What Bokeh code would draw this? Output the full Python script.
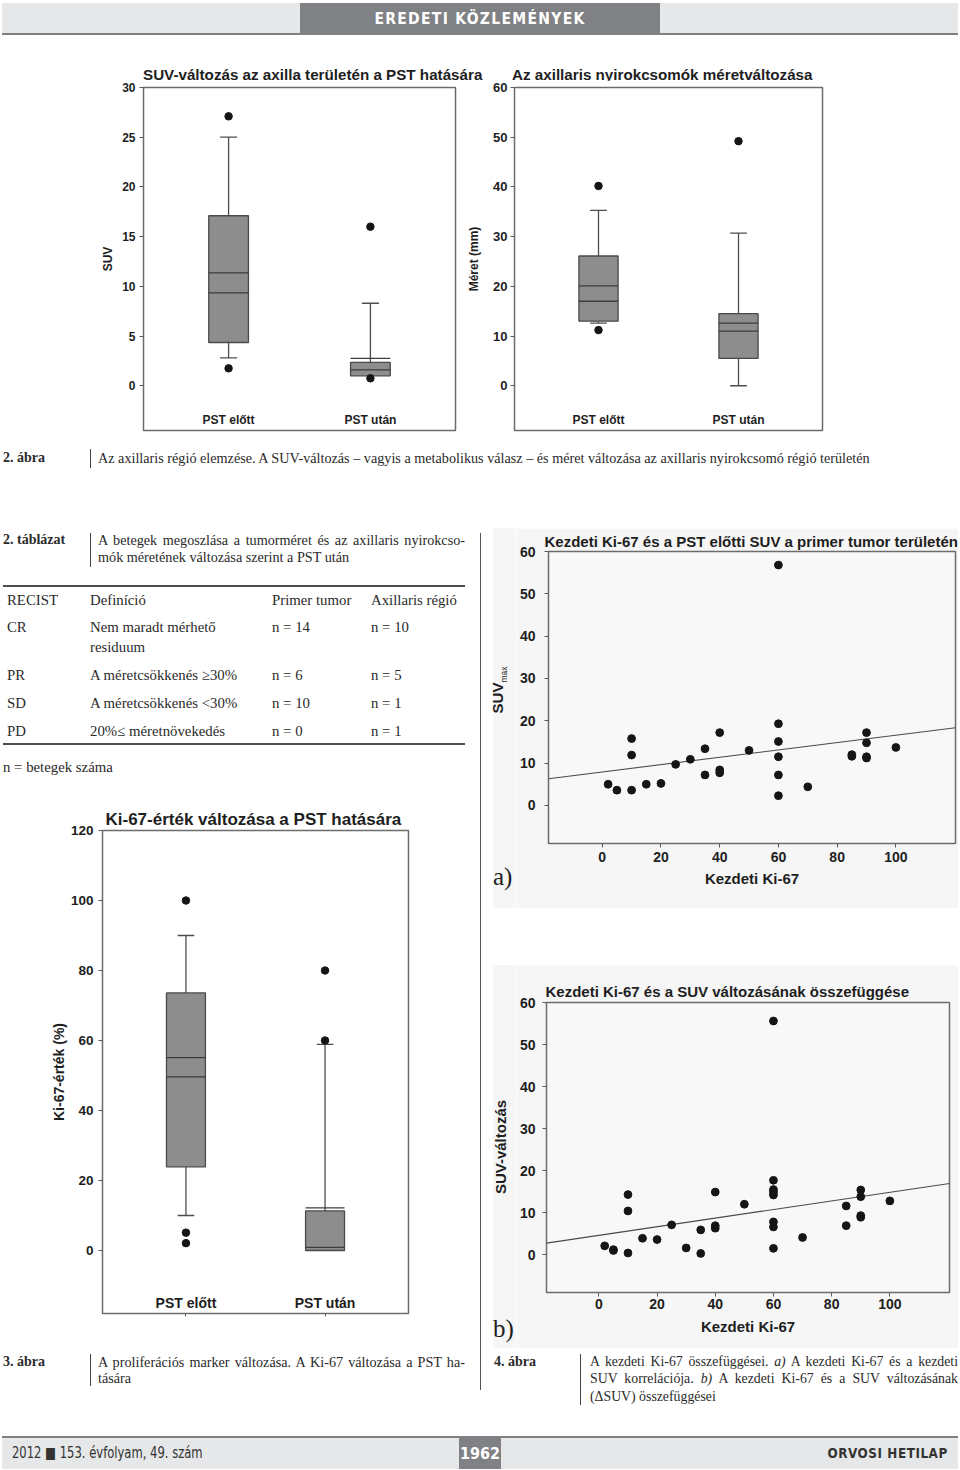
import html
from bokeh.plotting import figure
from bokeh.layouts import column, row
from bokeh.models import Div, Spacer, FixedTicker, Range1d
from bokeh.embed import file_html
from bokeh.resources import INLINE
from bokeh.core.properties import value

SANS = "Liberation Sans"
CSS_SANS = "'Liberation Sans',Arial,sans-serif"
CSS_SERIF = "'Liberation Serif','Times New Roman',serif"
CSS_NARROW = "'Liberation Sans Narrow','DejaVu Sans Condensed','Roboto Condensed','Liberation Sans',sans-serif"
INK = "#1e1e1e"
TEXT = "#2a2a2a"
PANEL = "#f6f6f6"

# ---------------------------------------------------------------- data
header_text = "EREDETI KÖZLEMÉNYEK"
footer_left = "2012 ■ 153. évfolyam, 49. szám"
footer_page = "1962"
footer_right = "ORVOSI HETILAP"

box_categories = ["PST előtt", "PST után"]
box_positions = [1, 2]

suv_title = "SUV-változás az axilla területén a PST hatására"
suv_ylabel = "SUV"
suv_ticks = [0, 5, 10, 15, 20, 25, 30]
suv_low = [2.8, 1.0]
suv_q1 = [4.35, 1.0]
suv_median = [9.35, 1.6]
suv_mean = [11.35, 2.75]
suv_q3 = [17.1, 2.35]
suv_high = [25.0, 8.3]
suv_outlier_group = [0, 0, 1, 1]
suv_outlier_value = [27.1, 1.75, 16.0, 0.75]

meret_title = "Az axillaris nyirokcsomók méretváltozása"
meret_ylabel = "Méret (mm)"
meret_ticks = [0, 10, 20, 30, 40, 50, 60]
meret_low = [12.6, 0.0]
meret_q1 = [13.0, 5.5]
meret_median = [17.0, 11.0]
meret_mean = [20.1, 12.6]
meret_q3 = [26.1, 14.5]
meret_high = [35.3, 30.7]
meret_outlier_group = [0, 0, 1]
meret_outlier_value = [40.2, 11.2, 49.2]

ki_title = "Ki-67-érték változása a PST hatására"
ki_ylabel = "Ki-67-érték (%)"
ki_ticks = [0, 20, 40, 60, 80, 100, 120]
ki_low = [10.0, 0.0]
ki_q1 = [23.9, 0.0]
ki_median = [49.6, 0.9]
ki_mean = [55.1, 12.2]
ki_q3 = [73.6, 11.3]
ki_high = [90.0, 58.9]
ki_outlier_group = [0, 0, 0, 1, 1]
ki_outlier_value = [100.0, 5.1, 2.1, 80.0, 60.0]

scatter_xlabel = "Kezdeti Ki-67"
scatter_x_ticks = [0, 20, 40, 60, 80, 100]
scatter_y_ticks = [0, 10, 20, 30, 40, 50, 60]

sca_title = "Kezdeti Ki-67 és a PST előtti SUV a primer tumor területén"
sca_ylabel = "SUV"
sca_ylabel_sub = "max"
sca_ki67 = [2, 5, 10, 10, 10, 15, 20, 25, 30, 35, 35, 40, 40, 40, 50,
            60, 60, 60, 60, 60, 60, 70, 85, 85, 90, 90, 90, 90, 100]
sca_suv = [5.0, 3.6, 15.8, 11.9, 3.6, 5.0, 5.2, 9.7, 10.9, 13.4, 7.2, 17.2, 8.4, 7.7, 13.0,
           56.8, 19.3, 15.1, 11.5, 7.2, 2.3, 4.4, 12.0, 11.6, 17.2, 14.8, 11.5, 11.2, 13.7]
sca_fit_intercept = 7.9
sca_fit_slope = 0.087
sca_panel = "a)"

scb_title = "Kezdeti Ki-67 és a SUV változásának összefüggése"
scb_ylabel = "SUV-változás"
scb_ki67 = [2, 5, 5, 10, 10, 10, 15, 20, 25, 30, 35, 35, 40, 40, 40, 50,
            60, 60, 60, 60, 60, 60, 60, 60, 70, 85, 85, 90, 90, 90, 90, 100]
scb_dsuv = [2.1, 1.2, 1.0, 14.3, 10.4, 0.4, 3.9, 3.6, 7.1, 1.6, 5.9, 0.3, 14.9, 6.9, 6.3, 12.0,
            55.6, 17.7, 15.5, 14.9, 14.2, 7.8, 6.6, 1.5, 4.1, 11.6, 6.9, 15.4, 13.8, 9.3, 8.9, 12.8]
scb_fit_intercept = 4.6
scb_fit_slope = 0.1025
scb_panel = "b)"

fig2_label = "2. ábra"
fig2_caption = ("Az axillaris régió elemzése. A SUV-változás – vagyis a metabolikus válasz – "
                "és méret változása az axillaris nyirokcsomó régió területén")
tab_label = "2. táblázat"
tab_caption = ["A betegek megoszlása a tumorméret és az axillaris nyirokcso-",
               "mók méretének változása szerint a PST után"]
table_header = ["RECIST", "Definíció", "Primer tumor", "Axillaris régió"]
table_recist = ["CR", "PR", "SD", "PD"]
table_definition = [["Nem maradt mérhető", "residuum"], ["A méretcsökkenés ≥30%"],
                    ["A méretcsökkenés <30%"], ["20%≤ méretnövekedés"]]
table_primer = ["n = 14", "n = 6", "n = 10", "n = 0"]
table_axillaris = ["n = 10", "n = 5", "n = 1", "n = 1"]
table_note = "n = betegek száma"
fig3_label = "3. ábra"
fig3_caption = ["A proliferációs marker változása. A Ki-67 változása a PST ha-", "tására"]
fig4_label = "4. ábra"
fig4_caption = ["A kezdeti Ki-67 összefüggései. <i>a)</i> A kezdeti Ki-67 és a kezdeti",
                "SUV korrelációja. <i>b)</i> A kezdeti Ki-67 és a SUV változásának",
                "(ΔSUV) összefüggései"]


# ---------------------------------------------------------------- helpers
class Geo:
    """Canvas and frame placement in page pixels."""
    def __init__(self, cx, cy, w, h, fx0, fx1, fy0, fy1, xr, yr):
        self.w, self.h, self.xr, self.yr = w, h, xr, yr
        self.fx0, self.fx1, self.fy0, self.fy1 = fx0, fx1, fy0, fy1
        self.mbl, self.mbr = fx0 - cx, cx + w - fx1
        self.mbt, self.mbb = fy0 - cy, cy + h - fy1

    def dy(self, py):
        return self.yr[0] + (self.fy1 - py) * (self.yr[1] - self.yr[0]) / (self.fy1 - self.fy0)


def make_figure(g, bg="white", frame_bg="white"):
    p = figure(width=g.w, height=g.h, x_range=Range1d(*g.xr), y_range=Range1d(*g.yr),
               output_backend="svg", toolbar_location=None,
               min_border_left=g.mbl, min_border_right=g.mbr,
               min_border_top=g.mbt, min_border_bottom=g.mbb,
               background_fill_color=frame_bg, border_fill_color=bg,
               outline_line_color="#6c6c6c", outline_line_width=1.5)
    p.xgrid.visible = False
    p.ygrid.visible = False
    return p


def set_title(p, text, size, standoff, offset=0):
    p.title.text = text
    p.title.text_font = SANS
    p.title.text_font_style = "bold"
    p.title.text_font_size = f"{size}px"
    p.title.text_color = INK
    p.title.align = "left"
    p.title.offset = offset
    p.title.standoff = standoff


def style_axis(ax, ticks, size, tick_standoff, label=None, label_size=12, label_standoff=5, tick_out=4):
    ax.ticker = FixedTicker(ticks=ticks)
    ax.axis_line_color = None
    ax.major_tick_in = 0
    ax.major_tick_out = tick_out
    ax.minor_tick_in = 0
    ax.minor_tick_out = 0
    ax.major_tick_line_color = "#5a5a5a"
    ax.major_label_text_font = SANS
    ax.major_label_text_font_style = "bold"
    ax.major_label_text_font_size = f"{size}px"
    ax.major_label_text_color = INK
    ax.major_label_standoff = tick_standoff
    if label:
        ax.axis_label = label
        ax.axis_label_text_font = SANS
        ax.axis_label_text_font_style = "bold"
        ax.axis_label_text_font_size = f"{label_size}px"
        ax.axis_label_text_color = INK
        ax.axis_label_standoff = label_standoff


def box_chart(g, ticks, tick_size, tick_standoff, ylabel, ylabel_size, ylabel_standoff,
              low, q1, med, mean, q3, high, out_group, out_value, cat_label_py, cat_size,
              title=None, x_ticks=False):
    p = make_figure(g)
    if title:
        set_title(p, *title)
    style_axis(p.yaxis[0], ticks, tick_size, tick_standoff, ylabel, ylabel_size, ylabel_standoff)
    if x_ticks:
        xa = p.xaxis[0]
        style_axis(xa, box_positions, 4, 0, tick_out=3)
        xa.major_label_overrides = {1: "", 2: ""}
    else:
        p.xaxis.visible = False
    bw, cw = 0.28, 0.12
    xs = box_positions
    lefts = [x - bw / 2 for x in xs]
    rights = [x + bw / 2 for x in xs]
    wcol, ww = "#4e4e4e", 1.3
    p.segment(x0=xs, y0=q3, x1=xs, y1=high, line_color=wcol, line_width=ww)
    p.segment(x0=[x - cw / 2 for x in xs], x1=[x + cw / 2 for x in xs], y0=high, y1=high,
              line_color=wcol, line_width=ww)
    keep = [i for i in range(len(xs)) if low[i] < q1[i]]
    lx = [xs[i] for i in keep]
    llo = [low[i] for i in keep]
    lq1 = [q1[i] for i in keep]
    p.segment(x0=lx, y0=lq1, x1=lx, y1=llo, line_color=wcol, line_width=ww)
    p.segment(x0=[x - cw / 2 for x in lx], x1=[x + cw / 2 for x in lx], y0=llo, y1=llo,
              line_color=wcol, line_width=ww)
    p.quad(left=lefts, right=rights, bottom=q1, top=q3, fill_color="#8d8d8d",
           line_color="#4a4a4a", line_width=1.3)
    p.segment(x0=lefts, x1=rights, y0=med, y1=med, line_color="#3c3c3c", line_width=1.3)
    p.segment(x0=lefts, x1=rights, y0=mean, y1=mean, line_color="#3c3c3c", line_width=1.3)
    p.scatter(x=[xs[i] for i in out_group], y=out_value, size=7.5, color="#151515")
    cy = g.dy(cat_label_py)
    p.text(x=xs, y=[cy] * len(xs), text=box_categories, text_align="center", text_baseline="middle",
           text_font=value(SANS), text_font_style="bold", text_font_size=f"{cat_size}px", text_color=INK)
    return p


def scatter_chart(g, title, kx, ky, b0, b1, ytick_standoff, xtick_standoff, xlabel_standoff):
    p = make_figure(g, bg=PANEL, frame_bg="#f8f8f8")
    set_title(p, *title)
    style_axis(p.yaxis[0], scatter_y_ticks, 14, ytick_standoff)
    style_axis(p.xaxis[0], scatter_x_ticks, 14, xtick_standoff, scatter_xlabel, 15, xlabel_standoff)
    fx = list(g.xr)
    fy = [b0 + b1 * x for x in fx]
    p.line(x=fx, y=fy, line_color="#4a4a4a", line_width=1.1)
    p.scatter(x=kx, y=ky, size=7.8, color="#151515")
    return p


def txt(x, yc, content, size, family=CSS_SERIF, weight="normal", color=TEXT, extra=""):
    lh = round(size * 1.3)
    top = yc - lh / 2
    return (f'<div style="position:absolute;left:{x}px;top:{top:.1f}px;font-family:{family};'
            f'font-size:{size}px;line-height:{lh}px;font-weight:{weight};color:{color};'
            f'white-space:nowrap;{extra}">{content}</div>')


def jline(x, yc, width, content, size, color=TEXT):
    lh = round(size * 1.3)
    top = yc - lh / 2
    return (f'<div style="position:absolute;left:{x}px;top:{top:.1f}px;width:{width}px;'
            f'font-family:{CSS_SERIF};font-size:{size}px;line-height:{lh}px;color:{color};'
            f'white-space:nowrap;text-align:justify;text-align-last:justify;">{content}</div>')


def vtxt(cx, cy, content, size, weight="bold"):
    return (f'<div style="position:absolute;left:{cx}px;top:{cy}px;transform:translate(-50%,-50%) rotate(-90deg);'
            f'font-family:{CSS_SANS};font-size:{size}px;line-height:{round(size*1.2)}px;font-weight:{weight};'
            f'color:{INK};white-space:nowrap;">{content}</div>')


def rect(x, y, w, h, color):
    return (f'<div style="position:absolute;left:{x}px;top:{y}px;width:{w}px;height:{h}px;'
            f'background:{color};"></div>')


def box_div(w, h, inner):
    return Div(text=f'<div style="position:relative;width:{w}px;height:{h}px;overflow:visible;">{inner}</div>',
               width=w, height=h, margin=0)


W = 958

# ---------------------------------------------------------------- figures
g_suv = Geo(88, 80, 376, 360, 143, 455, 87, 430, (0.4, 2.6), (-4.5, 30))
g_meret = Geo(464, 80, 376, 360, 512, 822, 87, 430, (0.4, 2.6), (-9, 60))
g_ki = Geo(0, 790, 478, 550, 102, 408, 830, 1313, (0.4, 2.6), (-18, 120))
g_a = Geo(516, 528, 442, 380, 546, 955, 551, 843, (-18.3, 120.3), (-9, 60))
g_b = Geo(516, 965, 442, 383, 544, 949, 1002, 1292, (-18, 120.5), (-9, 60))

fig_suv = box_chart(g_suv, suv_ticks, 12, 4, suv_ylabel, 12, 4,
                    suv_low, suv_q1, suv_median, suv_mean, suv_q3, suv_high,
                    suv_outlier_group, suv_outlier_value, 419, 12)
fig_meret = box_chart(g_meret, meret_ticks, 13, 3, meret_ylabel, 12, 9,
                      meret_low, meret_q1, meret_median, meret_mean, meret_q3, meret_high,
                      meret_outlier_group, meret_outlier_value, 419, 12)
fig_ki = box_chart(g_ki, ki_ticks, 13.5, 5, ki_ylabel, 14, 1,
                   ki_low, ki_q1, ki_median, ki_mean, ki_q3, ki_high,
                   ki_outlier_group, ki_outlier_value, 1302, 14,
                   title=(ki_title, 17, 3, 3), x_ticks=True)
fig_a = scatter_chart(g_a, (sca_title, 15, 3, -4), sca_ki67, sca_suv,
                      sca_fit_intercept, sca_fit_slope, 9, 4, 5)
fig_b = scatter_chart(g_b, (scb_title, 15, 5, -1), scb_ki67, scb_dsuv,
                      scb_fit_intercept, scb_fit_slope, 7, 2, 6)

# ---------------------------------------------------------------- text blocks
header_inner = (rect(2, 3, 956, 30, "#e6e7e8") + rect(2, 33, 956, 2, "#7f8083") + rect(300, 3, 360, 32, "#808184")
                + f'<div style="position:absolute;left:300px;top:5px;width:360px;line-height:28px;text-align:center;'
                  f'font-family:{CSS_NARROW};font-stretch:condensed;font-weight:bold;font-size:15.5px;'
                  f'letter-spacing:1.3px;color:#ffffff;">{html.escape(header_text)}</div>')
header_div = box_div(W, 36, header_inner)

top_titles = box_div(W, 24, txt(143, 19, html.escape(suv_title), 15.2, family=CSS_SANS, weight="bold", color=INK)
                     + txt(512, 19, html.escape(meret_title), 15.2, family=CSS_SANS, weight="bold", color=INK))

cap2_inner = (txt(3, 18, html.escape(fig2_label), 14, weight="bold") + rect(90, 9, 1, 19, "#444")
              + txt(98, 18, html.escape(fig2_caption), 14.2))
cap2_div = box_div(W, 40, cap2_inner)

t = txt(3, 12, html.escape(tab_label), 14, weight="bold") + rect(90, 5, 1, 34, "#444")
t += jline(98, 12, 367, html.escape(tab_caption[0]), 14.2)
t += txt(98, 29, html.escape(tab_caption[1]), 14.2)
t += rect(3, 57, 462, 2, "#4f4f4f")
col_x = [7, 90, 272, 371]
for cx, hdr in zip(col_x, table_header):
    t += txt(cx, 72, html.escape(hdr), 14.8)
row_y = [99, 147, 175, 203]
for ry, rc, rdef, rp, ra in zip(row_y, table_recist, table_definition, table_primer, table_axillaris):
    t += txt(col_x[0], ry, html.escape(rc), 14.8)
    for k, part in enumerate(rdef):
        t += txt(col_x[1], ry + 20 * k, html.escape(part), 14.8)
    t += txt(col_x[2], ry, html.escape(rp), 14.8)
    t += txt(col_x[3], ry, html.escape(ra), 14.8)
t += rect(3, 215, 462, 2, "#4f4f4f")
t += txt(3, 239, html.escape(table_note), 14.8)
table_div = box_div(478, 262, t)

cap3_inner = (txt(3, 22, html.escape(fig3_label), 14, weight="bold") + rect(90, 14, 1, 32, "#444")
              + jline(98, 22, 367, html.escape(fig3_caption[0]), 14.2)
              + txt(98, 38, html.escape(fig3_caption[1]), 14.2))
cap3_div = box_div(478, 72, cap3_inner)

cap4_inner = txt(10, 14, html.escape(fig4_label), 14, weight="bold") + rect(96, 6, 1, 51, "#444")
cap4_inner += jline(106, 14, 368, fig4_caption[0], 13.8)
cap4_inner += jline(106, 31, 368, fig4_caption[1], 13.8)
cap4_inner += txt(106, 49, fig4_caption[2], 13.8)
cap4_div = box_div(474, 64, cap4_inner)

sep_div = box_div(6, 884, rect(2, 5, 1, 857, "#555555"))

strip_a = box_div(32, 380, rect(9, 0, 23, 380, PANEL)
                  + vtxt(17, 162, f'{sca_ylabel}<sub style="font-size:8.5px;font-weight:normal;">{sca_ylabel_sub}</sub>', 15)
                  + txt(9, 349, sca_panel, 25, color=INK))
strip_b = box_div(32, 383, rect(9, 0, 23, 383, PANEL)
                  + vtxt(17, 182, html.escape(scb_ylabel), 15)
                  + txt(9, 364, scb_panel, 25, color=INK))

footer_inner = (rect(2, 2, 956, 31, "#e6e7e8") + rect(2, 0, 956, 2, "#7f8083") + rect(459, 0, 42, 33, "#808184")
                + txt(12, 17, html.escape(footer_left), 15.5, family=CSS_NARROW, color="#333333",
                      extra="font-stretch:condensed;transform:scaleX(0.83);transform-origin:0 50%;")
                + f'<div style="position:absolute;left:459px;top:4px;width:42px;line-height:28px;text-align:center;'
                  f'font-family:{CSS_NARROW};font-stretch:condensed;font-weight:bold;font-size:16px;color:#ffffff;">'
                  f'{footer_page}</div>'
                + f'<div style="position:absolute;right:10px;top:4px;line-height:26px;font-family:{CSS_NARROW};'
                  f'font-stretch:condensed;font-weight:bold;font-size:14.5px;letter-spacing:0.6px;color:#333333;'
                  f'transform:scaleX(0.92);transform-origin:100% 50%;">'
                  f'{html.escape(footer_right)}</div>')
footer_div = box_div(W, 33, footer_inner)

# ---------------------------------------------------------------- layout
top_row = row(Spacer(width=88, height=360), fig_suv, fig_meret, Spacer(width=W - 840, height=360), spacing=0)
left_col = column(table_div, fig_ki, cap3_div, spacing=0)
right_col = column(row(strip_a, fig_a, spacing=0), Spacer(width=474, height=57),
                   row(strip_b, fig_b, spacing=0), cap4_div, spacing=0)
bottom_row = row(left_col, sep_div, right_col, spacing=0)
page = column(header_div, Spacer(width=W, height=20), top_titles, top_row, cap2_div, Spacer(width=W, height=48),
              bottom_row, Spacer(width=W, height=24), footer_div, spacing=0)

open("out.html", "w").write(file_html(page, INLINE, title="Eredeti közlemények"))
